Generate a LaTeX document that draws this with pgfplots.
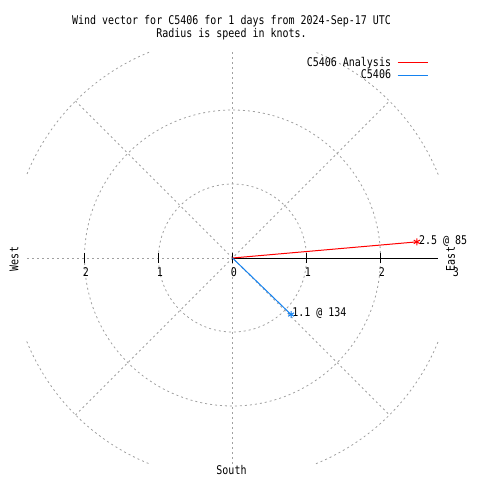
\documentclass[border=0pt]{standalone}
\usepackage{fontspec}
\setmainfont{DejaVu Sans Mono}[FakeStretch=0.833]
\usepackage{pgfplots}
\pgfplotsset{compat=1.18}
\definecolor{gridgray}{RGB}{160,160,160}
\definecolor{vblue}{RGB}{20,130,240}
\pgfplotsset{
  gnulegend/.style={legend image code/.code={\draw[##1] (0bp,0bp) -- (30bp,0bp);}},
}
\begin{document}
\begin{tikzpicture}[font=\fontsize{12bp}{13bp}\selectfont]
\begin{axis}[
  hide axis, clip=false, x=74bp, y=74bp,
  xmin=-2.78, xmax=2.78, ymin=-2.78, ymax=2.78,
  at={(0,0)}, anchor=origin,
  legend cell align=right, legend plot pos=right,
  legend style={draw=none, fill=none, at={(0.983,0.999)}, anchor=north east,
    font=\fontsize{12bp}{11bp}\selectfont, row sep=-1.5bp,
    /tikz/every odd column/.append style={column sep=4bp}},
]
\coordinate (O) at (axis cs:0,0);
% grid
\begin{scope}[gridgray, dash pattern=on 2bp off 3bp, line width=0.8bp]
\draw (axis cs:0,0) circle[radius=74bp];
\draw (axis cs:0,0) circle[radius=148bp];
\draw (axis cs:2.78,1.1275) arc[start angle=22.08, end angle=67.92, radius=222bp];
\draw (axis cs:-1.1275,2.78) arc[start angle=112.08, end angle=157.92, radius=222bp];
\draw (axis cs:-2.78,-1.1275) arc[start angle=202.08, end angle=247.92, radius=222bp];
\draw (axis cs:1.1275,-2.78) arc[start angle=292.08, end angle=337.92, radius=222bp];
\draw (axis cs:0,-2.78) -- (axis cs:0,2.78);
\draw (axis cs:-2.78,0) -- (axis cs:0,0);
\draw (axis cs:-2.1213,-2.1213) -- (axis cs:2.1213,2.1213);
\draw (axis cs:-2.1213,2.1213) -- (axis cs:2.1213,-2.1213);
\end{scope}
% polar axis
\draw[black, line width=0.8bp] (axis cs:0,0) -- (axis cs:2.78,0);
\draw[black, line width=0.8bp] (axis cs:-2,-0.0676) -- (axis cs:-2,0.0676);
\draw[black, line width=0.8bp] (axis cs:-1,-0.0676) -- (axis cs:-1,0.0676);
\draw[black, line width=0.8bp] (axis cs:0,-0.0676) -- (axis cs:0,0.0676);
\draw[black, line width=0.8bp] (axis cs:1,-0.0676) -- (axis cs:1,0.0676);
\draw[black, line width=0.8bp] (axis cs:2,-0.0676) -- (axis cs:2,0.0676);
\node[inner sep=0pt] at (axis cs:-2,0) [xshift=1.5bp, yshift=-14bp] {2};
\node[inner sep=0pt] at (axis cs:-1,0) [xshift=1.5bp, yshift=-14bp] {1};
\node[inner sep=0pt] at (axis cs:0,0) [xshift=1.5bp, yshift=-14bp] {0};
\node[inner sep=0pt] at (axis cs:1,0) [xshift=1.5bp, yshift=-14bp] {1};
\node[inner sep=0pt] at (axis cs:2,0) [xshift=1.5bp, yshift=-14bp] {2};
\node[inner sep=0pt] at (axis cs:3,0) [xshift=1.5bp, yshift=-14bp] {3};
% data
\addplot[color=red, line width=1bp, mark=asterisk, mark size=3.5bp, mark indices={2}, gnulegend]
  coordinates {(0,0) (2.4905,0.2179)};
\addlegendentry{C5406 Analysis}
\addplot[color=vblue, line width=1bp, mark=asterisk, mark size=3.5bp, mark indices={2}, gnulegend]
  coordinates {(0,0) (0.7913,-0.7641)};
\addlegendentry{C5406}
\node[anchor=west, inner sep=0pt] at (axis cs:2.4905,0.2179) [xshift=2bp, yshift=1bp] {2.5 @ 85};
\node[anchor=west, inner sep=0pt] at (axis cs:0.7913,-0.7641) [xshift=1bp, yshift=1.5bp] {1.1 @ 134};
\end{axis}
\node[align=center, inner sep=0pt] at ([shift={(-1bp,230.5bp)}]O) {Wind vector for C5406 for 1 days from 2024-Sep-17 UTC\\Radius is speed in knots.};
\node[rotate=90, inner sep=0pt] at ([shift={(-218.5bp,-1bp)}]O) {West};
\node[rotate=90, inner sep=0pt] at ([shift={(218bp,-1bp)}]O) {East};
\node[inner sep=0pt] at ([shift={(-1bp,-212.5bp)}]O) {South};
\pgfresetboundingbox
\path[use as bounding box] (O) ++(-232.5bp,-222bp) rectangle ++(480bp,480bp);
\end{tikzpicture}
\end{document}
